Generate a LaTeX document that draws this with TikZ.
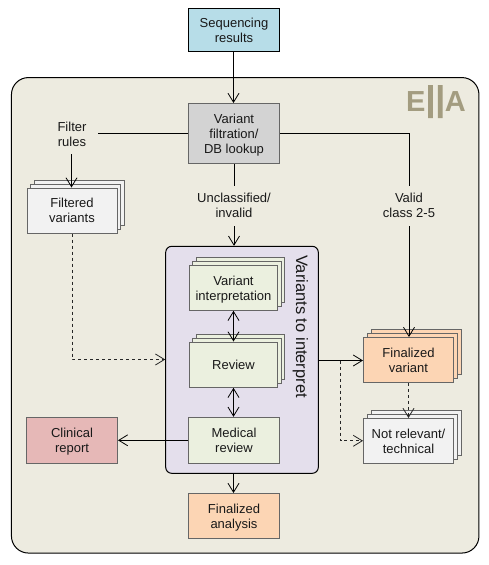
\documentclass[tikz,border=0pt]{standalone}
\usepackage{fontspec}
\setmainfont{Liberation Sans}
\usetikzlibrary{arrows.meta,shadows}
\definecolor{cblue}{HTML}{B7DDE8}
\definecolor{cgray}{HTML}{D3D3D3}
\definecolor{cbg}{HTML}{EDEBE0}
\definecolor{cwhite}{HTML}{F2F2F2}
\definecolor{cgreen}{HTML}{EBF0DF}
\definecolor{cpurple}{HTML}{E4DFEC}
\definecolor{corange}{HTML}{FCD5B4}
\definecolor{cpink}{HTML}{E6B8B7}
\definecolor{cedge}{HTML}{666666}
\definecolor{clogo}{HTML}{A39C80}
\tikzset{
  x=1pt,y=-1pt,
  >={Straight Barb[length=9pt,width=11pt,line width=.8pt]},
  every node/.style={font=\fontsize{13}{15}\selectfont,align=center,inner sep=0pt,text=black!90,text depth=0pt},
  boxs/.style={draw=cedge,line width=1pt,minimum width=#1,rectangle},
  wide/.style={boxs=91pt,minimum height=45pt},
  stack/.style={boxs=90pt,minimum height=45pt,double copy shadow={shadow xshift=3.75pt,shadow yshift=4pt}},
  smallstack/.style={boxs=88.5pt,minimum height=45pt,double copy shadow={shadow xshift=3.5pt,shadow yshift=4pt}},
  link/.style={draw=black,line width=1pt},
  dlink/.style={draw=black!85,line width=1pt,dash pattern=on 3pt off 3pt},
}
\begin{document}
\begin{tikzpicture}
\useasboundingbox (0,0) rectangle (489,565);
\node[rectangle,draw=black,line width=1pt,fill=cbg,rounded corners=17pt,minimum width=467.5pt,minimum height=475.5pt] (outer) at (245.2,315.3) {};
\node[rectangle,draw=black,line width=1pt,fill=cpurple,rounded corners=6pt,minimum width=152.6pt,minimum height=227pt] (vti) at (242,359.8) {};

\node[wide,draw=black,fill=cblue,minimum height=43.5pt] (seq) at (234,30.2) {Sequencing\\results};
\node[wide,fill=cgray,minimum height=60.5pt] (vf) at (234,133.7) {Variant\\filtration/\\DB lookup};
\node (rules) at (72,134.5) {Filter\\rules};
\node[stack,fill=cwhite] (filt) at (72,210.5) {Filtered\\variants};
\node (uncl) at (234,205.5) {Unclassified/\\invalid};
\node (valid) at (409,205.5) {Valid\\class 2-5};
\node[smallstack,fill=cgreen] (interp) at (233.5,287.8) {Variant\\interpretation};
\node[smallstack,fill=cgreen] (rev) at (233.5,364.8) {Review};
\node[wide,fill=cgreen,minimum height=46pt] (med) at (234,440.3) {Medical\\review};
\node[wide,fill=cpink,minimum height=45.5pt] (clin) at (72,440.3) {Clinical\\report};
\node[wide,fill=corange] (fana) at (234,516) {Finalized\\analysis};
\node[stack,fill=corange] (fvar) at (408.5,359.8) {Finalized\\variant};
\node[stack,fill=cwhite] (nrel) at (408.5,440.8) {Not relevant/\\technical};
\node[rotate=-90,font=\fontsize{16.5}{18}\selectfont] (vtil) at (302,326.5) {Variants to interpret};

% logo
\node[font=\fontsize{29}{29}\selectfont\bfseries,text=clogo,anchor=base west] (logoE) at (406,111.7) {E};
\node[font=\fontsize{29}{29}\selectfont\bfseries,text=clogo,anchor=base east] (logoA) at (466,111.7) {A};
\fill[clogo] (428,85) rectangle (432.8,118) (437.8,85) rectangle (442.6,118);

% connectors
\draw[link,->] (seq.south -| 233.5,0) -- (233.5,103);
\draw[link] (98,133.5) coordinate (rulesout) -- (vf.west |- rulesout);
\draw[link] (vf.east |- 0,133.5) -| (409,186);
\draw[link,->] (409,226) -- (409,337);
\draw[link,->] (71.5,154) -- (71.5,187.5);
\draw[link] (vf.south) -- (234,186);
\draw[link,->] (234,226) -- (uncl.south |- vti.north);
\draw[dlink,->] (filt.south) |- (vti.west |- 0,359.5);
\draw[link,<->] (interp.south) -- (233.5,341.5);
\draw[link,<->] (rev.south) -- (med.north -| 233.5,0);
\draw[link,->] (med.west) -- (clin.east);
\draw[link,->] (233.5,473) -- (fana.north -| 233.5,0);
\draw[link,->] (vti.east |- 0,360.5) -- (fvar.west |- 0,360.5);
\draw[dlink,->] (fvar.south) -- (408.5,418);
\draw[dlink,->] (340.5,360.5) |- (nrel.west);
\end{tikzpicture}
\end{document}
